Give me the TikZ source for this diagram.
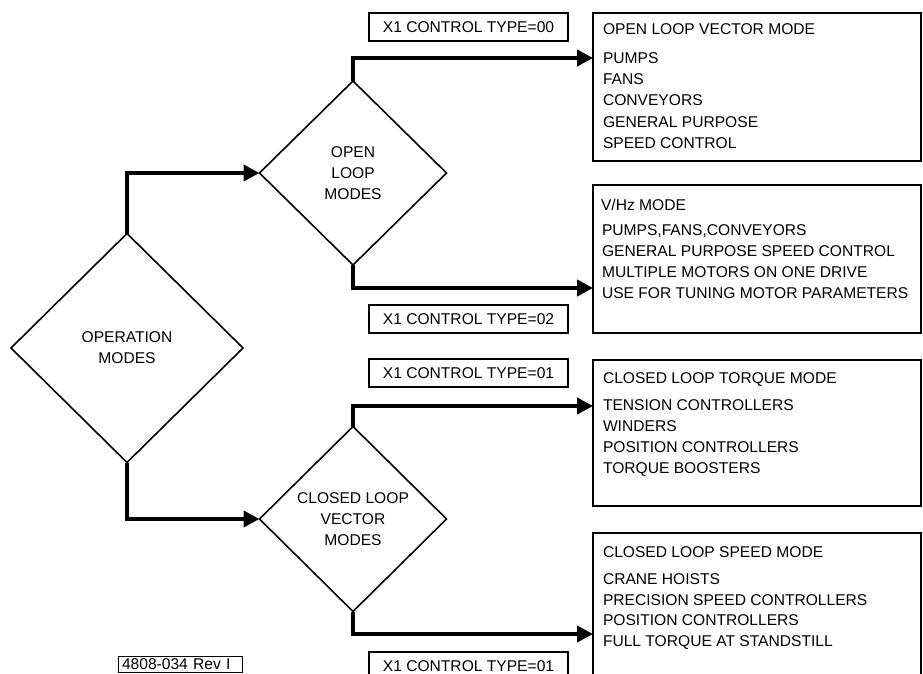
\documentclass[tikz,border=0pt]{standalone}
\usepackage{fontspec}
\setmainfont{Liberation Sans}
\usetikzlibrary{shapes.geometric,arrows.meta}
\begin{document}
\begin{tikzpicture}[x=1pt,y=-1pt,
  every node/.style={font=\fontsize{15.6}{21}\selectfont,outer sep=0pt},
  choice/.style={diamond,draw,line width=1.6pt,inner sep=0pt,align=center},
  infobox/.style={draw,line width=2pt,anchor=north west,inner sep=0pt,
    minimum width=328pt},
  typebox/.style={draw,line width=2pt,anchor=north west,inner sep=0pt,
    minimum width=199pt,minimum height=28pt},
  boxtext/.style={anchor=north west,inner sep=0pt,align=left},
  conn/.style={line width=4.5pt,line join=miter,
    -{Triangle[length=16pt,width=16pt]}}]
\useasboundingbox (0,0) rectangle (923,674);
\clip (0,0) rectangle (923,674);

% decision diamonds
\node[choice,minimum width=232pt,minimum height=229pt] (op) at (127,348)
  {OPERATION\\MODES};
\node[choice,minimum width=187pt,minimum height=184pt] (open) at (353,173)
  {OPEN\\LOOP\\MODES};
\node[choice,minimum width=187pt,minimum height=185pt] (closed) at (353,519)
  {CLOSED LOOP\\VECTOR\\MODES};

% mode description boxes
\node[infobox,minimum height=148pt] (b1) at (593,13) {};
\node[infobox,minimum height=148pt] (b2) at (593,185) {};
\node[infobox,minimum height=146pt] (b3) at (593,360) {};
\node[infobox,minimum height=160pt] (b4) at (593,533) {};

\node[boxtext] (h1) at (603,23.4) {OPEN LOOP VECTOR MODE};
\node[boxtext,font=\fontsize{15.6}{21.25}\selectfont] (l1) at (603,52.4)
  {PUMPS\\FANS\\CONVEYORS\\GENERAL PURPOSE\\SPEED CONTROL};

\node[boxtext] (h2) at (601,199.4) {V/Hz MODE};
\node[boxtext] (l2) at (602,224.4)
  {PUMPS,FANS,CONVEYORS\\GENERAL PURPOSE SPEED CONTROL\\MULTIPLE MOTORS ON ONE DRIVE\\USE FOR TUNING MOTOR PARAMETERS};

\node[boxtext] (h3) at (603,372.4) {CLOSED LOOP TORQUE MODE};
\node[boxtext] (l3) at (603,399.4)
  {TENSION CONTROLLERS\\WINDERS\\POSITION CONTROLLERS\\TORQUE BOOSTERS};

\node[boxtext] (h4) at (603,546.4) {CLOSED LOOP SPEED MODE};
\node[boxtext,font=\fontsize{15.6}{20.7}\selectfont] (l4) at (603,573.4)
  {CRANE HOISTS\\PRECISION SPEED CONTROLLERS\\POSITION CONTROLLERS\\FULL TORQUE AT STANDSTILL};

% control type labels
\node[typebox] (t00) at (369,13) {X1 CONTROL TYPE=00};
\node[typebox] (t02) at (369,305) {X1 CONTROL TYPE=02};
\node[typebox] (t01a) at (369,359) {X1 CONTROL TYPE=01};
\node[typebox] (t01b) at (369,652) {X1 CONTROL TYPE=01};

% drawing number
\node[draw,line width=0.8pt,anchor=north west,inner xsep=4pt,inner ysep=0pt,
  text width=116pt,align=left,minimum height=16pt] (rev) at (118,656)
  {4808-034 Rev I};

% arrow end points on the box edges
\coordinate (e1) at (593,58);
\coordinate (e2) at (593,288);
\coordinate (e3) at (593,406);
\coordinate (e4) at (593,634);

% connectors
\draw[conn] (op.north) |- (open.west);
\draw[conn] (op.south) |- (closed.west);
\draw[conn] (open.north) |- (e1);
\draw[conn] (open.south) |- (e2);
\draw[conn] (closed.north) |- (e3);
\draw[conn] (closed.south) |- (e4);
\end{tikzpicture}
\end{document}
